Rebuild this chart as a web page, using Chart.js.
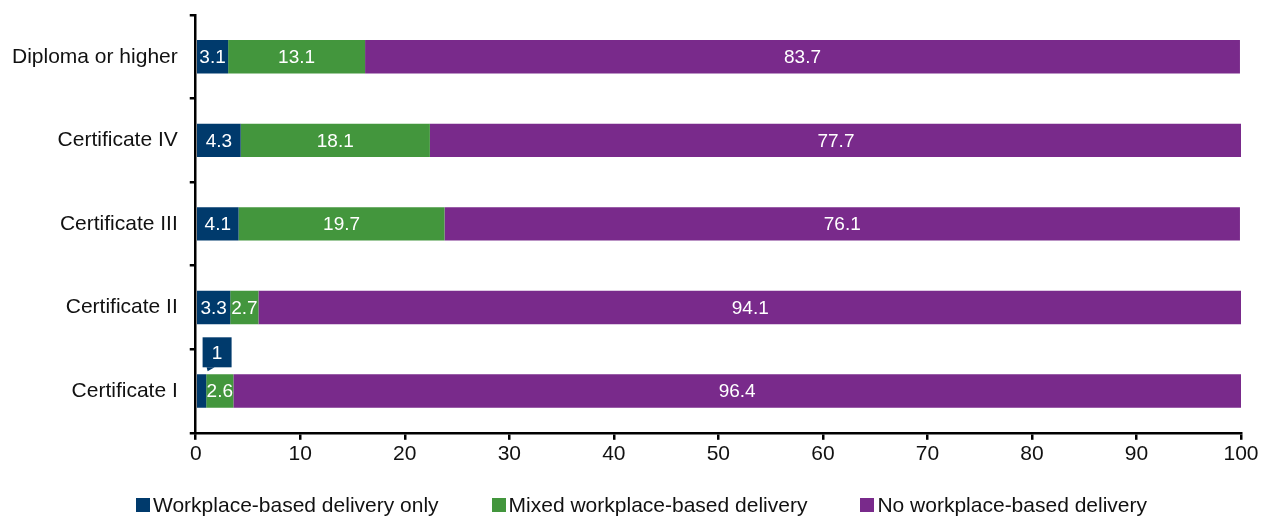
<!DOCTYPE html>
<html>
<head>
<meta charset="utf-8">
<script src="https://cdn.jsdelivr.net/npm/chart.js@4.4.1/dist/chart.umd.min.js"></script>
<style>
  html, body { margin: 0; padding: 0; background: #fff; }
  #wrap { position: relative; width: 1261px; height: 517px; }
  #legend {
    position: absolute; left: 136px; top: 493px;
    display: flex; align-items: center; gap: 53px;
    font: 21px "Liberation Sans", Arial, sans-serif; color: #111;
    white-space: nowrap;
  }
  #legend .item { display: flex; align-items: center; }
  #legend .box { width: 14px; height: 14px; margin-right: 3px; }
</style>
</head>
<body>
<div id="wrap">
  <canvas id="myChart"></canvas>
  <div id="legend"></div>
</div>
<script>
const categories = ['Diploma or higher', 'Certificate IV', 'Certificate III', 'Certificate II', 'Certificate I'];
const workplaceOnly = [3.1, 4.3, 4.1, 3.3, 1];
const mixedWorkplace = [13.1, 18.1, 19.7, 2.7, 2.6];
const noWorkplace = [83.7, 77.7, 76.1, 94.1, 96.4];
const xTickValues = [0, 10, 20, 30, 40, 50, 60, 70, 80, 90, 100];

const seriesNames = ['Workplace-based delivery only', 'Mixed workplace-based delivery', 'No workplace-based delivery'];
const seriesColors = ['#003a6c', '#43963d', '#792a8b'];

const FONT = '"Liberation Sans", Arial, sans-serif';

// white value labels inside the bars, too-thin segments get a callout above
const barLabels = {
    id: 'barLabels',
    afterDatasetsDraw(chart) {
        const ctx = chart.ctx;
        ctx.save();
        ctx.font = '19px ' + FONT;
        ctx.textAlign = 'center';
        ctx.textBaseline = 'middle';
        chart.data.datasets.forEach((ds, i) => {
            chart.getDatasetMeta(i).data.forEach((bar, j) => {
                const txt = String(ds.data[j]);
                const w = Math.abs(bar.x - bar.base);
                const cx = (bar.x + bar.base) / 2;
                if (w >= 15) {
                    ctx.fillStyle = '#fff';
                    ctx.fillText(txt, cx, bar.y + 1);
                } else {
                    const top = bar.y - bar.height / 2;
                    const bw = 29, bh = 30;
                    const bx = cx + 1, by = top - 7 - bh;
                    ctx.fillStyle = ds.backgroundColor;
                    ctx.fillRect(bx, by, bw, bh);
                    ctx.beginPath();
                    ctx.moveTo(bx + 4, by + bh);
                    ctx.lineTo(bx + 12, by + bh);
                    ctx.lineTo(bx + 5, by + bh + 4);
                    ctx.closePath();
                    ctx.fill();
                    ctx.fillStyle = '#fff';
                    ctx.fillText(txt, bx + bw / 2, by + bh / 2 + 1);
                }
            });
        });
        ctx.restore();
    }
};

function buildLegend(chart) {
    const legend = document.getElementById('legend');
    chart.data.datasets.forEach(ds => {
        const item = document.createElement('div');
        item.className = 'item';
        const box = document.createElement('span');
        box.className = 'box';
        box.style.background = ds.backgroundColor;
        const txt = document.createElement('span');
        txt.textContent = ds.label;
        item.appendChild(box);
        item.appendChild(txt);
        legend.appendChild(item);
    });
}

function ShowGraph() {
    const ctx = document.getElementById('myChart');
    const values = [workplaceOnly, mixedWorkplace, noWorkplace];

    const chart = new Chart(ctx, {
        type: 'bar',
        data: {
            labels: categories,
            datasets: values.map((data, i) => ({
                label: seriesNames[i],
                data: data,
                backgroundColor: seriesColors[i],
                borderWidth: 0,
                barPercentage: 0.4,
                categoryPercentage: 1
            }))
        },
        options: {
            indexAxis: 'y',
            responsive: true,
            maintainAspectRatio: false,
            animation: false,
            layout: { padding: { top: 15, left: 0, right: 20, bottom: 48 } },
            plugins: {
                legend: { display: false },
                tooltip: { enabled: false }
            },
            scales: {
                x: {
                    stacked: true,
                    min: 0,
                    max: 100,
                    afterBuildTicks: axis => { axis.ticks = xTickValues.map(v => ({ value: v })); },
                    border: { color: '#000', width: 2.5 },
                    grid: { drawOnChartArea: false, color: '#000', lineWidth: 2.5, tickLength: 7 },
                    ticks: { color: '#111', padding: 2, font: { size: 21, family: FONT } }
                },
                y: {
                    stacked: true,
                    // labels sit in the middle of their bands, no overflow room needed
                    afterFit: axis => { axis.paddingTop = 0; axis.paddingBottom = 0; },
                    border: { color: '#000', width: 2.5 },
                    grid: { drawOnChartArea: false, color: '#000', lineWidth: 2.5, tickLength: 6, offset: true },
                    ticks: { color: '#111', padding: 12, font: { size: 21, family: FONT } }
                }
            }
        },
        plugins: [barLabels]
    });
    buildLegend(chart);
}

window.addEventListener('load', ShowGraph);
</script>
</body>
</html>
